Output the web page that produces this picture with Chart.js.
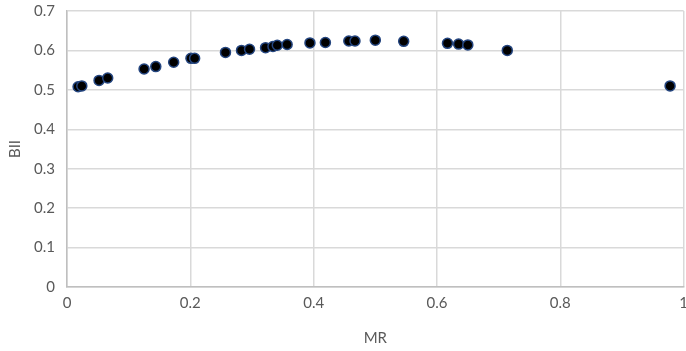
<!DOCTYPE html>
<html>
<head>
<meta charset="utf-8">
<script src="https://cdn.jsdelivr.net/npm/chart.js@4.4.1/dist/chart.umd.min.js"></script>
<style>
  html, body { margin: 0; padding: 0; background: #fff; overflow: hidden; }
  /* wider than the window so the last x label is cut at the edge */
  #wrap { width: 695px; height: 351px; }
</style>
</head>
<body>
<div id="wrap"><canvas id="scatter"></canvas></div>
<script>
// MR on the x axis, BII on the y axis
const mr = [0.018, 0.024, 0.052, 0.066, 0.125, 0.144, 0.173, 0.201, 0.207, 0.257,
  0.283, 0.296, 0.322, 0.334, 0.341, 0.357, 0.394, 0.419, 0.457, 0.467,
  0.500, 0.546, 0.617, 0.635, 0.650, 0.714, 0.978];
const bii = [0.508, 0.510, 0.524, 0.530, 0.553, 0.559, 0.570, 0.580, 0.580, 0.595,
  0.600, 0.603, 0.607, 0.610, 0.613, 0.615, 0.619, 0.620, 0.624, 0.624,
  0.626, 0.623, 0.618, 0.616, 0.614, 0.600, 0.510];

const xTicks = [0, 0.2, 0.4, 0.6, 0.8, 1];
const yTicks = [0, 0.1, 0.2, 0.3, 0.4, 0.5, 0.6, 0.7];

const points = mr.map((x, i) => ({ x: x, y: bii[i] }));

const gray = '#595959';
const font = { family: 'Lato', size: 15 };

const ctx = document.getElementById('scatter');

new Chart(ctx, {
  type: 'scatter',
  data: {
    datasets: [
      {
        data: points,
        pointRadius: 5,
        pointHoverRadius: 5,
        borderWidth: 1.5,
        borderColor: '#24457f',
        backgroundColor: '#000000',
      },
    ],
  },
  options: {
    responsive: true,
    maintainAspectRatio: false,
    animation: false,
    layout: {
      padding: { top: 11, left: 0, right: 0, bottom: 0 },
    },
    plugins: {
      legend: { display: false },
      tooltip: { enabled: false },
    },
    scales: {
      x: {
        type: 'linear',
        min: 0,
        max: 1,
        afterBuildTicks: (axis) => {
          axis.ticks = xTicks.map((v) => ({ value: v }));
        },
        afterFit: (axis) => {
          axis.height = 64;
        },
        grid: { color: '#d9d9d9', lineWidth: 1.5, drawTicks: false },
        border: { color: '#bfbfbf', width: 1.5 },
        ticks: {
          color: gray,
          font: font,
          padding: 7,
          maxRotation: 0,
          callback: (v) => String(v),
        },
        title: {
          display: true,
          text: 'MR',
          color: gray,
          font: font,
          padding: { top: 0, bottom: 4 },
        },
      },
      y: {
        type: 'linear',
        min: 0,
        max: 0.7,
        afterBuildTicks: (axis) => {
          axis.ticks = yTicks.map((v) => ({ value: v }));
        },
        afterFit: (axis) => {
          axis.width = 67;
          axis.paddingTop = 0;
          axis.paddingBottom = 0;
        },
        grid: { color: '#d9d9d9', lineWidth: 1.5, drawTicks: false },
        border: { color: '#bfbfbf', width: 1.5 },
        ticks: {
          color: gray,
          font: font,
          padding: 12,
          callback: (v) => String(v),
        },
        title: {
          display: true,
          text: 'BII',
          color: gray,
          font: font,
          padding: { top: 6, bottom: 0 },
        },
      },
    },
  },
});
</script>
</body>
</html>
